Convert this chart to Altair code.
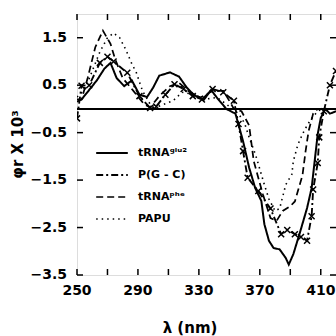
import altair as alt
import pandas as pd

# ---- data ----
glu_nm = [250, 253, 258, 263, 268, 272, 276, 281, 286, 291, 296, 300, 304, 311, 317, 322, 326, 329, 333, 338, 342, 348,
          354, 359, 363, 367, 371, 373, 376, 379, 383, 387, 389, 392, 396, 401, 404, 406, 408, 410, 413, 416, 420]
glu_val = [0.2, 0.2, 0.4, 0.6, 0.85, 0.97, 0.65, 0.48, 0.6, 0.3, 0.25, 0.45, 0.7, 0.77, 0.68, 0.45, 0.32, 0.25, 0.18, 0.4,
           0.23, 0.0, -0.1, -0.68, -1.24, -1.67, -1.94, -2.43, -2.78, -2.93, -2.96, -3.14, -3.28, -3.06, -2.64, -2.09,
           -1.67, -1.1, -0.53, -0.19, 0.0, -0.1, -0.05]

pgc_nm = [250, 253, 258, 265, 270, 274, 283, 291, 298, 302, 308, 314, 320, 326, 332, 339, 346, 353, 356, 359, 362, 369,
          377, 384, 388, 393, 397, 401, 404, 405, 408, 409, 412, 416, 420]
pgc_val = [-0.2, 0.49, 0.5, 0.97, 1.1, 1.0, 0.76, 0.27, 0.02, 0.05, 0.3, 0.52, 0.42, 0.27, 0.2, 0.42, 0.35, 0.17, -0.32,
           -0.89, -1.45, -1.73, -2.1, -2.64, -2.55, -2.64, -2.7, -2.78, -2.26, -1.7, -1.14, -0.6, -0.05, 0.5, 0.8]

phe_nm = [250, 253, 257, 262, 267, 272, 275, 280, 287, 294, 298, 304, 311, 317, 324, 331, 339, 346, 350, 353, 358, 363,
          366, 372, 377, 381, 385, 390, 393, 398, 400, 402, 405, 408, 412, 416, 420]
phe_val = [0.15, 0.2, 0.65, 1.3, 1.65, 1.37, 1.05, 0.65, 0.38, 0.1, 0.03, 0.27, 0.48, 0.55, 0.35, 0.24, 0.38, 0.38, 0.17,
           0.0, -0.05, -0.35, -1.1, -1.8, -2.3, -2.36, -2.15, -2.05, -1.95, -1.4, -0.9, -0.47, -0.1, 0.0, 0.0, 0.0, 0.0]

papu_nm = [250, 255, 260, 265, 270, 274, 278, 282, 286, 289, 293, 298, 304, 313, 319, 326, 333, 342, 348, 352, 356, 360,
           363, 367, 369, 373, 376, 380, 383, 387, 391, 392, 395, 398, 401, 404, 408, 411, 415, 420]
papu_val = [0.25, 0.4, 0.8, 1.2, 1.5, 1.6, 1.5, 1.25, 0.95, 0.76, 0.38, 0.1, 0.06, 0.17, 0.35, 0.31, 0.2, 0.24, 0.1, 0.0,
            -0.1, -0.3, -0.6, -0.95, -1.16, -1.6, -1.9, -2.15, -2.1, -1.6, -1.38, -1.1, -0.75, -0.53, -0.35, -0.2,
            -0.05, 0.0, 0.0, 0.0]

series_names = ["tRNAᵍˡᵘ²", "P(G - C)", "tRNAᵖʰᵉ", "PAPU"]
x_ticks = list(range(250, 421, 20))
x_label_vals = [250, 290, 330, 370, 410]
x_label_text = ["250", "290", "330", "370", "410"]
y_ticks = [-3.5, -2.5, -1.5, -0.5, 0.5, 1.5]
y_label_text = ["−3.5", "−2.5", "−1.5", "−0.5", "0.5", "1.5"]
x_title = ["λ (nm)"]
y_title = ["φr X 10³"]
x_range = [250, 420]
y_range = [-3.5, 2.0]
zero_level = [0.0]

rows = []
for name, xs, ys in zip(series_names, [glu_nm, pgc_nm, phe_nm, papu_nm], [glu_val, pgc_val, phe_val, papu_val]):
    for i, (a, b) in enumerate(zip(xs, ys)):
        rows.append({"series": name, "nm": a, "val": b, "order": i})
df = pd.DataFrame(rows)
zero_df = pd.DataFrame({"val": zero_level})
xt_df = pd.DataFrame({"t": x_ticks})
yt_df = pd.DataFrame({"t": y_ticks})
xl_df = pd.DataFrame({"nm": x_label_vals, "label": x_label_text})
yl_df = pd.DataFrame({"val": y_ticks, "label": y_label_text})
xtitle_df = pd.DataFrame({"label": x_title})
ytitle_df = pd.DataFrame({"label": y_title})

W, H = 259, 261
TICK = 6
FONT = "DejaVu Sans"
xscale = alt.Scale(domain=x_range, nice=False, zero=False)
yscale = alt.Scale(domain=y_range, nice=False, zero=False)

X = alt.X("nm:Q", scale=xscale, axis=None)
Y = alt.Y("val:Q", scale=yscale, axis=None)

dash_scale = alt.Scale(domain=series_names, range=[[1, 0], [7, 3, 2, 3], [7, 4], [1.5, 4]])
width_scale = alt.Scale(domain=series_names, range=[2, 1.6, 2, 1.6])

lines = alt.Chart(df).mark_line(color="black", clip=True).encode(
    x=X, y=Y,
    detail="series:N",
    order="order:Q",
    strokeDash=alt.StrokeDash("series:N", scale=dash_scale, sort=series_names,
                              legend=alt.Legend(title=None, orient="none", legendX=18, legendY=122,
                                                symbolType="stroke", symbolSize=1000, symbolStrokeWidth=2,
                                                symbolStrokeColor="black", labelFont=FONT, labelFontSize=11,
                                                labelFontWeight="bold", labelColor="black", rowPadding=0,
                                                padding=0, labelOffset=9)),
    strokeWidth=alt.StrokeWidth("series:N", scale=width_scale, legend=None),
)

marks = alt.Chart(df).transform_filter(alt.datum.series == "P(G - C)").mark_point(
    shape="M-1,-1L1,1M-1,1L1,-1", filled=False, color="black", strokeWidth=1.5, size=36, opacity=1, clip=True
).encode(x=X, y=Y)

zero = alt.Chart(zero_df).mark_rule(color="black", strokeWidth=2).encode(y=Y)

# inward tick marks on all four sides, positioned through the scales
tick_style = dict(color="black", strokeWidth=1.5)
TX = alt.X("t:Q", scale=xscale, axis=None)
TY = alt.Y("t:Q", scale=yscale, axis=None)
xt_bottom = alt.Chart(xt_df).mark_rule(**tick_style).encode(x=TX, y=alt.value(H), y2=alt.value(H - TICK))
xt_top = alt.Chart(xt_df).mark_rule(**tick_style).encode(x=TX, y=alt.value(0), y2=alt.value(TICK))
yt_left = alt.Chart(yt_df).mark_rule(**tick_style).encode(y=TY, x=alt.value(0), x2=alt.value(TICK))
yt_right = alt.Chart(yt_df).mark_rule(**tick_style).encode(y=TY, x=alt.value(W), x2=alt.value(W - TICK))

# tick labels and axis titles
lab_style = dict(font=FONT, fontSize=14, fontWeight="bold", color="black")
x_labels = alt.Chart(xl_df).mark_text(align="center", baseline="top", **lab_style).encode(
    x=X, y=alt.value(H + 9), text="label:N")
y_labels = alt.Chart(yl_df).mark_text(align="right", baseline="middle", **lab_style).encode(
    y=Y, x=alt.value(-10), text="label:N")
x_title_mark = alt.Chart(xtitle_df).mark_text(align="center", baseline="top", font=FONT, fontSize=15,
                                              fontWeight="bold", color="black").encode(
    x=alt.value(113), y=alt.value(H + 46), text="label:N")
y_title_mark = alt.Chart(ytitle_df).mark_text(align="center", baseline="middle", angle=270, font=FONT,
                                              fontSize=15, fontWeight="bold", color="black").encode(
    x=alt.value(-59), y=alt.value(H / 2), text="label:N")

chart = alt.layer(lines, marks, zero, xt_bottom, xt_top, yt_left, yt_right,
                  x_labels, y_labels, x_title_mark, y_title_mark).properties(
    width=W, height=H,
    autosize=alt.AutoSizeParams(type="none"),
    padding={"left": 77, "top": 14, "right": 0, "bottom": 61},
).configure_view(stroke="black", strokeWidth=2).configure(background="white")

chart.save("out.html", embed_options={"renderer": "svg", "actions": False})
